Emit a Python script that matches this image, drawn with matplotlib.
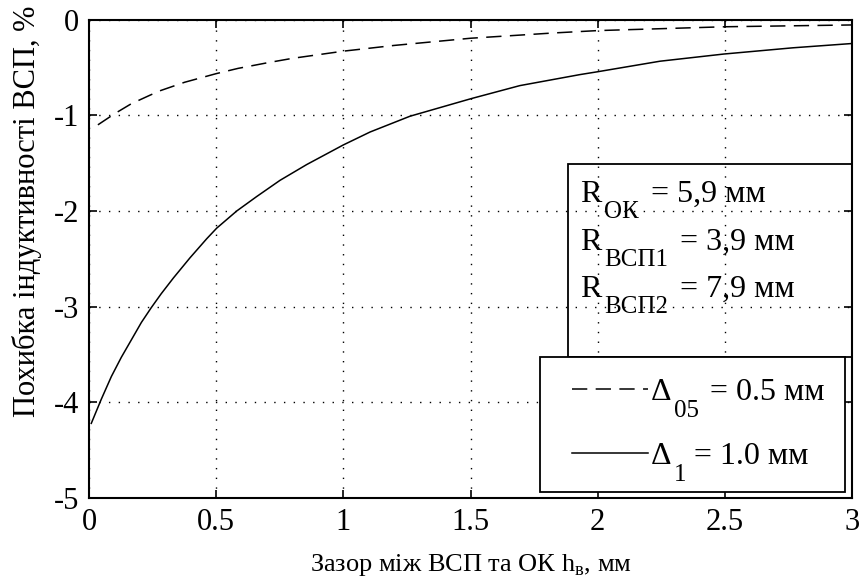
import matplotlib
matplotlib.use("Agg")
import matplotlib.pyplot as plt
from matplotlib.lines import Line2D
from matplotlib.legend_handler import HandlerLine2D
from matplotlib.patches import Rectangle

# gap between sensor and object, mm -> inductance error, %
gap_05 = [0.035, 0.10, 0.166, 0.24, 0.278, 0.376, 0.50, 0.586, 0.704, 0.80, 1.0, 1.2,
          1.5, 1.825, 2.0, 2.5, 3.0]
err_05 = [-1.10, -0.985, -0.88, -0.79, -0.745, -0.655, -0.565, -0.51, -0.45, -0.405, -0.33,
          -0.27, -0.195, -0.14, -0.115, -0.075, -0.056]

gap_1 = [0.009, 0.048, 0.088, 0.127, 0.166, 0.206, 0.245, 0.284, 0.332, 0.397, 0.463, 0.502,
         0.581, 0.659, 0.751, 0.856, 1.0, 1.105, 1.262, 1.504, 1.694, 1.93, 2.0,
         2.245, 2.496, 2.767, 3.0]
err_1 = [-4.22, -3.97, -3.73, -3.53, -3.35, -3.165, -3.01, -2.865, -2.70, -2.49, -2.29, -2.18,
         -2.0, -1.85, -1.68, -1.515, -1.31, -1.175, -1.01, -0.825, -0.69, -0.575, -0.545,
         -0.435, -0.36, -0.295, -0.25]

x_ticks = [0, 0.5, 1, 1.5, 2, 2.5, 3]
x_tick_labels = ["0", "0.5", "1", "1.5", "2", "2.5", "3"]
y_ticks = [0, -1, -2, -3, -4, -5]
y_tick_labels = ["0", "-1", "-2", "-3", "-4", "-5"]

legend_subs = ["05", "1"]
legend_labels = ["Δ     = 0.5 мм", "Δ   = 1.0 мм"]
note_subs = ["ОК", "ВСП1", "ВСП2"]
note_values = ["= 5,9 мм", "= 3,9 мм", "= 7,9 мм"]

FS = 22
BOX_FS = 23
SUB_FS = 18

plt.rcParams["font.family"] = ["Liberation Serif", "DejaVu Serif"]
plt.rcParams["mathtext.fontset"] = "custom"
plt.rcParams["mathtext.rm"] = "Liberation Serif"
plt.rcParams["axes.unicode_minus"] = False

fig = plt.figure(figsize=(8.59, 5.83), dpi=100)
ax = fig.add_axes([0.1036, 0.1458, 0.8883, 0.8206])

l05, = ax.plot(gap_05, err_05, color="black", lw=1.1, dashes=(10, 5.5))
l1, = ax.plot(gap_1, err_1, color="black", lw=1.1)

ax.set_xlim(0, 3)
ax.set_ylim(-5, 0)
ax.set_xticks(x_ticks, x_tick_labels)
ax.set_yticks(y_ticks, y_tick_labels)
ax.tick_params(direction="in", length=6, width=1.2, labelsize=FS, pad=7,
               top=True, right=True)
ax.grid(True, color="black", lw=1.0, linestyle=(0, (1, 6)))
for sp in ax.spines.values():
    sp.set_linewidth(1.5)

ax.set_xlabel("Зазор між ВСП та ОК h$_\\mathregular{в}$, мм", fontsize=19, labelpad=11)
ax.set_ylabel("Похибка індуктивності ВСП, %", fontsize=FS)
ax.yaxis.set_label_coords(-0.062, 0.6)

# parameter box (transparent, grid shows through)
ax.add_patch(Rectangle((0.628, 0.295), 0.372, 0.403, transform=ax.transAxes,
                       fill=False, edgecolor="black", lw=1.3, zorder=5, clip_on=False))
for ypos, sub, val in zip([0.619, 0.518, 0.420], note_subs, note_values):
    t_r = ax.text(0.643, ypos, "R", transform=ax.transAxes, fontsize=BOX_FS, va="baseline")
    t_s = ax.annotate(sub, xy=(1, 0), xycoords=t_r, xytext=(3, -14),
                      textcoords="offset pixels", fontsize=SUB_FS, va="bottom")
    ax.annotate(val, xy=(1, 0), xycoords=(t_s, t_r), xytext=(12, 0),
                textcoords="offset pixels", fontsize=BOX_FS, va="bottom")

leg = ax.legend([l05, l1], legend_labels, loc="upper left", bbox_to_anchor=(0.591, 0.295),
                fontsize=BOX_FS, frameon=True, fancybox=False, edgecolor="black", framealpha=1,
                borderaxespad=0, borderpad=0.65, labelspacing=1.09, handlelength=2.73,
                handletextpad=0.1, handler_map={Line2D: HandlerLine2D(xpad=0.35)})
leg.get_frame().set_linewidth(1.3)

# lowered subscripts after the delta sign
fig.canvas.draw()
renderer = fig.canvas.get_renderer()
probe = ax.text(0, 0, "Δ", fontsize=BOX_FS)
delta_w = probe.get_window_extent(renderer).width
probe.remove()
for txt, sub in zip(leg.get_texts(), legend_subs):
    ax.annotate(sub, xy=(0, 0), xycoords=txt, xytext=(delta_w + 2, -15),
                textcoords="offset pixels", fontsize=SUB_FS, va="bottom", zorder=10)

fig.savefig("out.png", dpi=100)
